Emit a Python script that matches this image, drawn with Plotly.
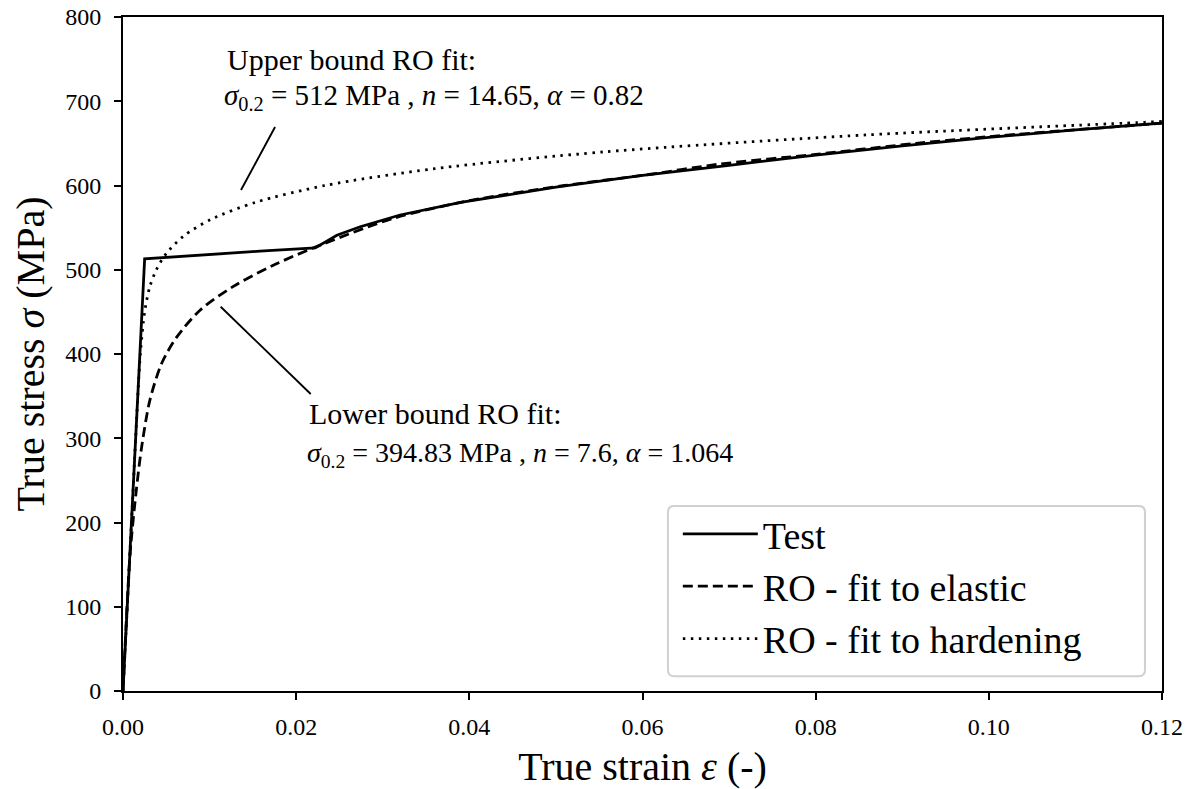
import plotly.graph_objects as go

# ---- data ----
strain_test = [0.0, 0.0025, 0.0158, 0.0222, 0.0247, 0.0274, 0.032, 0.039, 0.05, 0.06, 0.07, 0.08, 0.09, 0.10, 0.11, 0.12]
stress_test = [0, 513, 522, 526, 541, 551, 565, 580, 598, 612, 624, 636, 647, 657, 666, 674]

strain_elastic = [0.0, 0.0008, 0.0015, 0.00216, 0.0031, 0.00447, 0.0062, 0.0089, 0.0127, 0.0173, 0.022, 0.0312, 0.04, 0.051, 0.06, 0.0686, 0.08, 0.0916, 0.10, 0.12]
stress_elastic = [0, 160, 235, 290, 345, 389, 420, 452, 480, 505, 526, 561, 582, 600, 612, 625, 637, 650, 658, 674]

strain_hardening = [0.0, 0.00049, 0.00098, 0.00146, 0.0020, 0.0025, 0.0031, 0.00385, 0.00505, 0.0070, 0.0102, 0.0153, 0.0233, 0.0360, 0.0557, 0.0858, 0.118, 0.12]
stress_hardening = [0, 100, 200, 300, 400, 450, 480, 500, 520, 540, 560, 580, 600, 620, 640, 660, 675, 676]

series_names = ["Test", "RO - fit to elastic", "RO - fit to hardening"]

x_ticks = [0.00, 0.02, 0.04, 0.06, 0.08, 0.10, 0.12]
y_ticks = [0, 100, 200, 300, 400, 500, 600, 700, 800]

upper_title = "Upper bound RO fit:"
upper_formula = "<i>σ</i><sub>0.2</sub> = 512 MPa , <i>n</i> = 14.65, <i>α</i> = 0.82"
lower_title = "Lower bound RO fit:"
lower_formula = "<i>σ</i><sub>0.2</sub> = 394.83 MPa , <i>n</i> = 7.6, <i>α</i> = 1.064"

# leader lines (data coordinates)
upper_leader_x = [0.01363, 0.01756]
upper_leader_y = [594.7, 669.4]
lower_leader_x = [0.01128, 0.02168]
lower_leader_y = [456.1, 352.5]

FONT = "Liberation Serif, Times New Roman, serif"
LW = 2.8

fig = go.Figure()
fig.add_trace(go.Scatter(x=strain_test, y=stress_test, mode="lines", name=series_names[0],
                         line=dict(color="black", width=LW), legendgroup="a"))
fig.add_trace(go.Scatter(x=strain_elastic, y=stress_elastic, mode="lines", name=series_names[1],
                         line=dict(color="black", width=LW, dash="10px,5px", shape="spline", smoothing=0.8),
                         legendgroup="b"))
fig.add_trace(go.Scatter(x=strain_hardening, y=stress_hardening, mode="lines", name=series_names[2],
                         line=dict(color="black", width=LW, dash="2.5px,5.5px", shape="spline", smoothing=0.8),
                         legendgroup="c"))

for xs, ys in [(upper_leader_x, upper_leader_y), (lower_leader_x, lower_leader_y)]:
    fig.add_shape(type="line", xref="x", yref="y", x0=xs[0], y0=ys[0], x1=xs[1], y1=ys[1],
                  line=dict(color="black", width=1.9))

# rounded legend frame (paper coordinates)
lx0, lx1, ly0, ly1, r = 0.5245, 0.9836, 0.022, 0.2745, 0.006
ry = r * 1039 / 674
frame = (f"M {lx0+r},{ly0} L {lx1-r},{ly0} Q {lx1},{ly0} {lx1},{ly0+ry} L {lx1},{ly1-ry} "
         f"Q {lx1},{ly1} {lx1-r},{ly1} L {lx0+r},{ly1} Q {lx0},{ly1} {lx0},{ly1-ry} "
         f"L {lx0},{ly0+ry} Q {lx0},{ly0} {lx0+r},{ly0} Z")
fig.add_shape(type="path", xref="paper", yref="paper", path=frame,
              line=dict(color="#d0d0d0", width=2), fillcolor="rgba(255,255,255,0.85)", layer="above")

fig.add_annotation(x=0.01178, y=749, xref="x", yref="y", text=upper_title, showarrow=False,
                   xanchor="left", yanchor="middle", font=dict(family=FONT, size=30, color="black"))
fig.add_annotation(x=0.01143, y=705, xref="x", yref="y", text=upper_formula, showarrow=False,
                   xanchor="left", yanchor="middle", font=dict(family=FONT, size=29, color="black"))
fig.add_annotation(x=0.02125, y=329, xref="x", yref="y", text=lower_title, showarrow=False,
                   xanchor="left", yanchor="middle", font=dict(family=FONT, size=30, color="black"))
fig.add_annotation(x=0.02102, y=281, xref="x", yref="y", text=lower_formula, showarrow=False,
                   xanchor="left", yanchor="middle", font=dict(family=FONT, size=28, color="black"))

fig.update_layout(
    width=1197, height=789,
    margin=dict(l=123, r=35, t=17, b=98, autoexpand=False),
    paper_bgcolor="white", plot_bgcolor="white",
    font=dict(family=FONT, color="black"),
    showlegend=True,
    legend=dict(x=0.534, y=0.2795, xanchor="left", yanchor="top",
                bgcolor="rgba(0,0,0,0)", borderwidth=0,
                font=dict(family=FONT, size=38, color="black"),
                itemwidth=75, tracegroupgap=0),
)
fig.update_xaxes(range=[0, 0.12], tickvals=x_ticks, tickformat=".2f",
                 showgrid=False, zeroline=False, showline=True, linecolor="black", linewidth=2,
                 mirror=True, ticks="outside", ticklen=7, tickwidth=1.6, tickcolor="black",
                 ticklabelstandoff=6,
                 tickfont=dict(family=FONT, size=24, color="black"),
                 title=dict(text="True strain <i>ε</i> (-)", font=dict(family=FONT, size=40, color="black"), standoff=14))
fig.update_yaxes(range=[0, 800], tickvals=y_ticks,
                 showgrid=False, zeroline=False, showline=True, linecolor="black", linewidth=2,
                 mirror=True, ticks="outside", ticklen=7, tickwidth=1.6, tickcolor="black",
                 ticklabelstandoff=8,
                 tickfont=dict(family=FONT, size=24, color="black"),
                 title=dict(text="True stress <i>σ</i> (MPa)", font=dict(family=FONT, size=40, color="black"), standoff=8))

fig.write_html("out.html")
